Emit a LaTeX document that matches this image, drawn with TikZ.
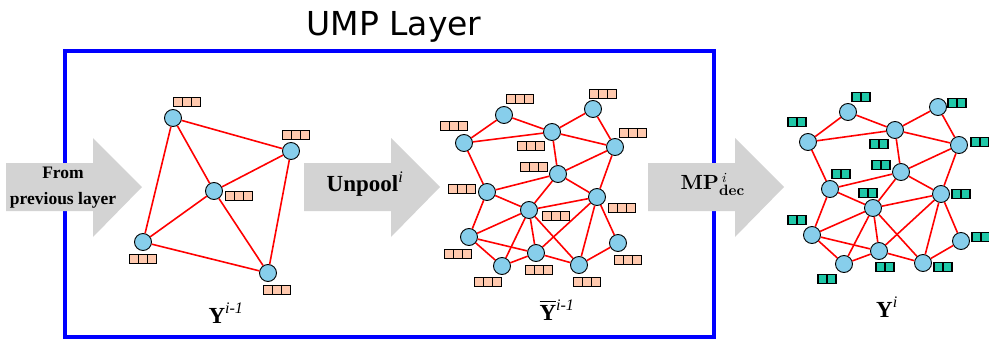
\documentclass[tikz,border=0pt]{standalone}
\usepackage{amsmath}
\usepackage[no-math]{fontspec}
\setmainfont{Liberation Serif}
\newfontfamily\titlefont{DejaVu Sans}
\newfontfamily\cmfont{lmroman10}[Extension=.otf, UprightFont=*-regular, BoldFont=*-bold, ItalicFont=*-italic]
\usepackage{tikz}
\usetikzlibrary{positioning}

\definecolor{peach}{HTML}{FFC9AE}
\definecolor{teal}{HTML}{1FC8A8}
\definecolor{skyblue}{HTML}{87CEEB}
\definecolor{arrowgray}{HTML}{D3D3D3}

\tikzset{
  vtx/.style={circle, draw=black, line width=0.9pt, fill=skyblue, minimum size=17pt, inner sep=0pt},
  redge/.style={draw=red, line width=1.6pt},
  cell/.style={rectangle, draw=black, line width=1.4pt, minimum size=9pt, inner sep=0pt, outer sep=0pt},
  pcell/.style={cell, fill=peach},
  tcell/.style={cell, fill=teal},
  lbl/.style={font=\fontsize{23}{28}\selectfont, anchor=base},
}

% three peach cells centred at (x,y)
\newcommand{\pfeat}[3]{%
  \node[pcell] (#1a) at (#2-9,#3) {};
  \node[pcell, right=0pt of #1a] (#1b) {};
  \node[pcell, right=0pt of #1b] (#1c) {};}
% two teal cells centred at (x,y)
\newcommand{\tfeat}[3]{%
  \node[tcell] (#1a) at (#2-4.5,#3) {};
  \node[tcell, right=0pt of #1a] (#1b) {};}

\begin{document}
\begin{tikzpicture}[x=1pt, y=-1pt]
\useasboundingbox (0,0) rectangle (989,340);

% layer frame and title
\draw[blue, line width=4pt] (65,50.5) rectangle (714,336.5);
\node[font=\titlefont\fontsize{33}{40}\selectfont, anchor=base] (title) at (394,35) {UMP Layer};

% block arrows
\foreach \x in {6,304,648}
  \fill[arrowgray] (\x,163) -- ++(87,0) -- ++(0,-25) -- ++(49,49) -- ++(-49,50) -- ++(0,-26) -- ++(-87,0) -- cycle;
\node[font=\bfseries\fontsize{17.5}{26}\selectfont, align=center] (from) at (63,188) {From\\previous layer};
\node[font=\fontsize{23}{28}\selectfont] (unpool) at (365,184) {\textbf{Unpool}\textsuperscript{\textit{i}}};
\node[font=\cmfont\fontsize{20.5}{24}\selectfont, anchor=base west] (mp) at (677,189)
  {\textbf{MP}\rlap{\raisebox{7pt}{\fontsize{14}{14}\selectfont\itshape\,i}}\raisebox{-6pt}{\fontsize{15}{15}\selectfont\bfseries dec}};

% graph Y^{i-1}
\node[vtx] (a1) at (173,118) {};
\node[vtx] (a2) at (291,151) {};
\node[vtx] (a3) at (214,191) {};
\node[vtx] (a4) at (143,242) {};
\node[vtx] (a5) at (268,273) {};
\path[redge] (a1) edge (a2) edge (a3) edge (a4)
  (a2) edge (a3) edge (a5)
  (a3) edge (a4) edge (a5)
  (a4) edge (a5);
\pfeat{fa1}{187}{102} \pfeat{fa2}{296}{135} \pfeat{fa3}{239}{196}
\pfeat{fa4}{143}{259} \pfeat{fa5}{277}{290}
\node[lbl] (ya) at (226,323) {\textbf{Y}\textsuperscript{\textit{i-1}}};

% graph after unpooling
\node[vtx] (b1) at (504,115) {};
\node[vtx] (b2) at (593,109) {};
\node[vtx] (b3) at (464,143) {};
\node[vtx] (b4) at (552,132) {};
\node[vtx] (b5) at (615,147) {};
\node[vtx] (b6) at (558,174) {};
\node[vtx] (b7) at (487,192) {};
\node[vtx] (b8) at (597,197) {};
\node[vtx] (b9) at (529,210) {};
\node[vtx] (b10) at (469,237) {};
\node[vtx] (b11) at (536,253) {};
\node[vtx] (b12) at (502,266) {};
\node[vtx] (b13) at (579,265) {};
\node[vtx] (b14) at (618,243) {};
\path[redge] (b3) edge (b1) edge (b4) edge (b7)
  (b1) edge (b4)
  (b4) edge (b2) edge (b5) edge (b6)
  (b2) edge (b5)
  (b5) edge (b6) edge (b8)
  (b7) edge (b6) edge (b9) edge (b10)
  (b6) edge (b9) edge (b8)
  (b9) edge (b8) edge (b10) edge (b12) edge (b11) edge (b13)
  (b10) edge (b11) edge (b12)
  (b12) edge (b11)
  (b11) edge (b13)
  (b8) edge (b11) edge (b13) edge (b14)
  (b13) edge (b14);
\pfeat{fb1}{520}{99} \pfeat{fb2}{603}{94} \pfeat{fb3}{454}{126}
\pfeat{fb4}{531}{146} \pfeat{fb5}{633}{133} \pfeat{fb6}{534}{167}
\pfeat{fb7}{462}{189} \pfeat{fb8}{622}{208} \pfeat{fb9}{556}{216}
\pfeat{fb10}{458}{254} \pfeat{fb11}{539}{270} \pfeat{fb12}{488}{282}
\pfeat{fb13}{587}{282} \pfeat{fb14}{628}{260}
\node[lbl] (yb) at (557,320) {$\overline{\mbox{\textbf{Y}}}$\textsuperscript{\textit{i-1}}};

% graph Y^i
\node[vtx] (c1) at (848,112) {};
\node[vtx] (c2) at (938,107) {};
\node[vtx] (c3) at (808,142) {};
\node[vtx] (c4) at (895,130) {};
\node[vtx] (c5) at (959,145) {};
\node[vtx] (c6) at (901,172) {};
\node[vtx] (c7) at (830,189) {};
\node[vtx] (c8) at (941,194) {};
\node[vtx] (c9) at (873,208) {};
\node[vtx] (c10) at (812,235) {};
\node[vtx] (c11) at (879,251) {};
\node[vtx] (c12) at (844,264) {};
\node[vtx] (c13) at (923,263) {};
\node[vtx] (c14) at (961,241) {};
\path[redge] (c3) edge (c1) edge (c4) edge (c7)
  (c1) edge (c4)
  (c4) edge (c2) edge (c5) edge (c6)
  (c2) edge (c5)
  (c5) edge (c6) edge (c8)
  (c7) edge (c6) edge (c9) edge (c10)
  (c6) edge (c9) edge (c8)
  (c9) edge (c8) edge (c10) edge (c12) edge (c11) edge (c13)
  (c10) edge (c11) edge (c12)
  (c12) edge (c11)
  (c11) edge (c13)
  (c8) edge (c11) edge (c13) edge (c14)
  (c13) edge (c14);
\tfeat{fc1}{861}{97} \tfeat{fc2}{957}{103} \tfeat{fc3}{797}{122}
\tfeat{fc4}{879}{144} \tfeat{fc5}{980}{142} \tfeat{fc6}{881}{165}
\tfeat{fc7}{841}{174} \tfeat{fc8}{961}{194} \tfeat{fc9}{868}{193}
\tfeat{fc10}{797}{220} \tfeat{fc11}{885}{267} \tfeat{fc12}{827}{279}
\tfeat{fc13}{943}{267} \tfeat{fc14}{981}{237}
\node[lbl] (yc) at (887,317) {\textbf{Y}\textsuperscript{\textit{i}}};
\end{tikzpicture}
\end{document}
